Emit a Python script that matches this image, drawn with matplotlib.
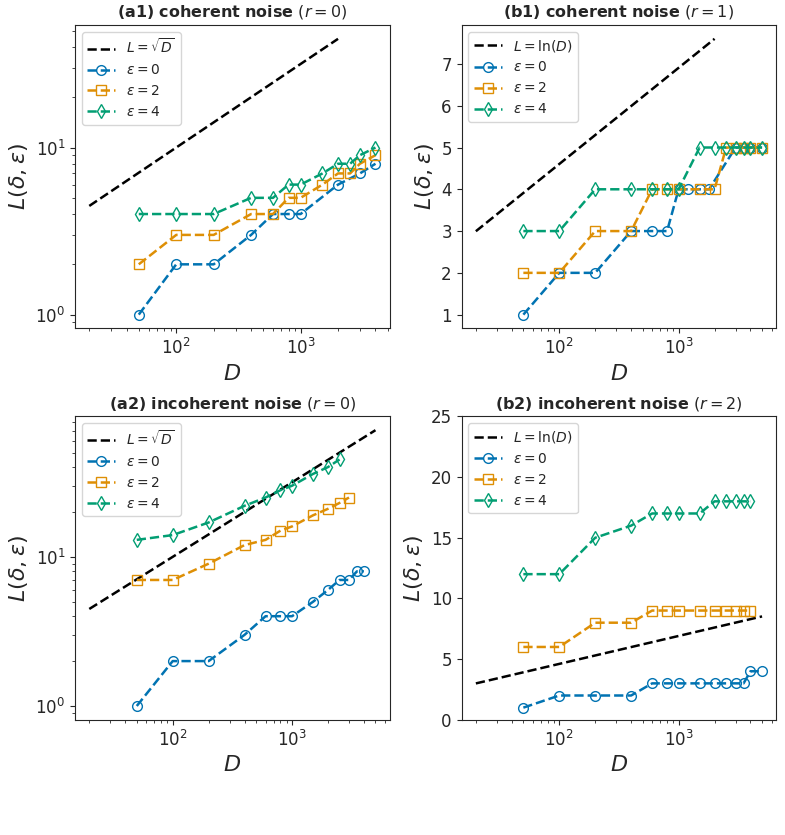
import numpy as np
import matplotlib
matplotlib.use("Agg")
import matplotlib.pyplot as plt

# colorblind palette
c_blue = "#0173b2"
c_orange = "#de8f05"
c_green = "#029e73"

# (a1) coherent noise, r = 0
D_a1 = [50, 100, 200, 400, 600, 800, 1000, 1500, 2000, 2500, 3000, 4000]
D_a1_e0 = [50, 100, 200, 400, 600, 800, 1000, 2000, 3000, 4000]
L_a1_e0 = [1, 2, 2, 3, 4, 4, 4, 6, 7, 8]
L_a1_e2 = [2, 3, 3, 4, 4, 5, 5, 6, 7, 7, 8, 9]
L_a1_e4 = [4, 4, 4, 5, 5, 6, 6, 7, 8, 8, 9, 10]

# (b1) coherent noise, r = 1
D_b1 = [50, 100, 200, 400, 600, 800, 1000, 1500, 2000, 2500, 3000, 3500, 4000, 5000]
D_b1_e0 = [50, 100, 200, 400, 600, 800, 1000, 1200, 1500, 1800, 3000, 3500, 4000, 5000]
L_b1_e0 = [1, 2, 2, 3, 3, 3, 4, 4, 4, 4, 5, 5, 5, 5]
L_b1_e2 = [2, 2, 3, 3, 4, 4, 4, 4, 4, 5, 5, 5, 5, 5]
L_b1_e4 = [3, 3, 4, 4, 4, 4, 4, 5, 5, 5, 5, 5, 5, 5]

# (a2) incoherent noise, r = 0
D_a2 = [50, 100, 200, 400, 600, 800, 1000, 1500, 2000, 2500, 3000, 3500, 4000]
L_a2_e0 = [1, 2, 2, 3, 4, 4, 4, 5, 6, 7, 7, 8, 8]
L_a2_e2 = [7, 7, 9, 12, 13, 15, 16, 19, 21, 23, 25]
L_a2_e4 = [13, 14, 17, 22, 25, 28, 30, 36, 40, 45]

# (b2) incoherent noise, r = 2
D_b2 = [50, 100, 200, 400, 600, 800, 1000, 1500, 2000, 2500, 3000, 3500, 4000, 5000]
L_b2_e0 = [1, 2, 2, 2, 3, 3, 3, 3, 3, 3, 3, 3, 4, 4]
L_b2_e2 = [6, 6, 8, 8, 9, 9, 9, 9, 9, 9, 9, 9, 9]
L_b2_e4 = [12, 12, 15, 16, 17, 17, 17, 17, 18, 18, 18, 18, 18]

# reference curves
D_ref_short = np.geomspace(20, 2000, 100)
D_ref_long = np.geomspace(20, 5000, 100)

plt.rcParams["font.family"] = ["DejaVu Sans"]
plt.rcParams["text.color"] = "#262626"
plt.rcParams["axes.labelcolor"] = "#262626"
plt.rcParams["xtick.color"] = "#262626"
plt.rcParams["ytick.color"] = "#262626"
plt.rcParams["axes.edgecolor"] = "#262626"
plt.rcParams["xtick.labelsize"] = 12
plt.rcParams["ytick.labelsize"] = 12

fig, axs = plt.subplots(2, 2, figsize=(7.85, 8.35), dpi=100)
fig.subplots_adjust(left=0.0955, right=0.989, top=0.970, bottom=0.138,
                    wspace=0.228, hspace=0.29)


def draw_series(ax, d, l, color, marker, label):
    ax.plot(d, l, ls="--", color=color, marker=marker, mfc="none",
            mec=color, ms=7, lw=1.8, label=label)


panels = [
    (axs[0, 0], r"$\mathbf{(a1)\ coherent\ noise}$ ($r=0$)", "sqrt", D_ref_short,
     (D_a1_e0, L_a1_e0), (D_a1, L_a1_e2), (D_a1, L_a1_e4)),
    (axs[0, 1], r"$\mathbf{(b1)\ coherent\ noise}$ ($r=1$)", "ln", D_ref_short,
     (D_b1_e0, L_b1_e0), (D_b1, L_b1_e2), (D_b1, L_b1_e4)),
    (axs[1, 0], r"$\mathbf{(a2)\ incoherent\ noise}$ ($r=0$)", "sqrt", D_ref_long,
     (D_a2, L_a2_e0), (D_a2[:len(L_a2_e2)], L_a2_e2), (D_a2[:len(L_a2_e4)], L_a2_e4)),
    (axs[1, 1], r"$\mathbf{(b2)\ incoherent\ noise}$ ($r=2$)", "ln", D_ref_long,
     (D_b2, L_b2_e0), (D_b2[:len(L_b2_e2)], L_b2_e2), (D_b2[:len(L_b2_e4)], L_b2_e4)),
]

for ax, title, ref, dref, s0, s2, s4 in panels:
    if ref == "sqrt":
        ax.plot(dref, np.sqrt(dref), "k--", lw=1.8, label=r"$L=\sqrt{D}$")
        ax.set_yscale("log")
    else:
        ax.plot(dref, np.log(dref), "k--", lw=1.8, label=r"$L=\ln(D)$")
    draw_series(ax, s0[0], s0[1], c_blue, "o", r"$\varepsilon=0$")
    draw_series(ax, s2[0], s2[1], c_orange, "s", r"$\varepsilon=2$")
    draw_series(ax, s4[0], s4[1], c_green, "d", r"$\varepsilon=4$")
    ax.set_xscale("log")
    ax.set_title(title, fontsize=11.5)
    ax.set_xlabel(r"$D$", fontsize=16)
    ax.set_ylabel(r"$L(\delta,\varepsilon)$", fontsize=16)
    ax.legend(loc="upper left", fontsize=10)

axs[0, 1].set_yticks(range(1, 8))
axs[1, 1].set_ylim(0, 25)
axs[1, 1].set_yticks(range(0, 26, 5))

fig.savefig("out.png", dpi=100)
